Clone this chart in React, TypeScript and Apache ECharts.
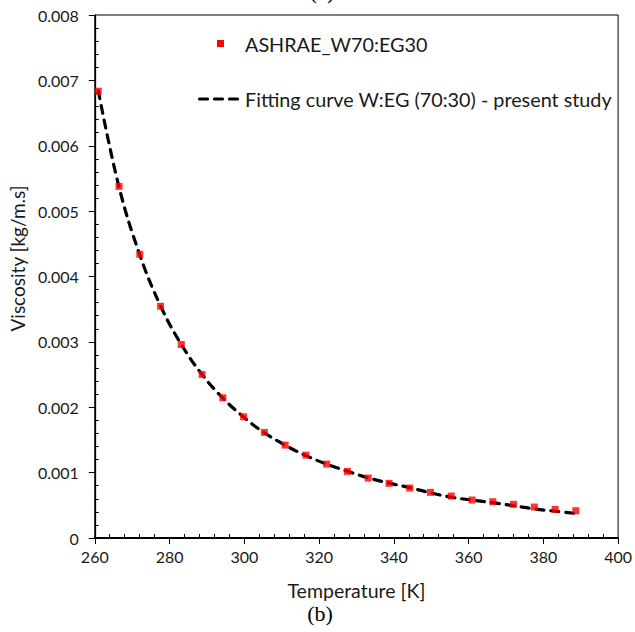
import React, { useEffect, useRef } from "react";
import * as echarts from "echarts";

const temperaturesK = [
  260.93, 266.48, 272.04, 277.59, 283.15, 288.71, 294.26, 299.82, 305.37, 310.93,
  316.48, 322.04, 327.59, 333.15, 338.71, 344.26, 349.82, 355.37, 360.93, 366.48,
  372.04, 377.59, 383.15, 388.71,
];
const ashraeViscosity = [
  0.006835, 0.005379, 0.00434, 0.003545, 0.00296, 0.002501, 0.002144, 0.001854, 0.001615, 0.001421,
  0.001268, 0.001131, 0.001019, 0.000917, 0.000836, 0.000764, 0.000698, 0.000642, 0.000581, 0.000555,
  0.000515, 0.000474, 0.000438, 0.000417,
];
const fitViscosity = [
  0.00684, 0.00537, 0.00433, 0.00355, 0.00296, 0.0025, 0.00214, 0.00185, 0.00161, 0.00142,
  0.00126, 0.00113, 0.00102, 0.00092, 0.00084, 0.00077, 0.00069, 0.000625, 0.00058, 0.00054,
  0.000495, 0.000445, 0.00041, 0.000375,
];
const seriesNames = ["ASHRAE_W70:EG30", "Fitting curve W:EG (70:30) - present study"];
const xAxisTitle = "Temperature [K]";
const yAxisTitle = "Viscosity [kg/m.s]";
const panelLabel = "(b)";
const previousPanelLabel = "(a)";

export default function App() {
  const ref = useRef<HTMLDivElement>(null);
  useEffect(() => {
    if (!ref.current) return;
    const chart = echarts.init(ref.current, undefined, { renderer: "svg" });
    const font = "Lato";
    const txt = "#1a1a1a";
    const yFmt = (v: number) => (v === 0 ? "0" : v.toFixed(3));
    chart.setOption({
      animation: false,
      backgroundColor: "#fff",
      grid: {
        left: 93,
        right: 16,
        top: 15,
        bottom: 94,
        show: true,
        borderColor: "#000",
        borderWidth: 1,
        backgroundColor: "transparent",
      },
      xAxis: [
        {
          type: "value",
          min: 260,
          max: 400,
          interval: 20,
          name: xAxisTitle,
          nameLocation: "middle",
          nameGap: 42,
          nameTextStyle: { fontFamily: font, fontSize: 19.5, color: txt, lineHeight: 20 },
          axisLine: { show: true, lineStyle: { color: "#000", width: 2 } },
          axisTick: { show: true, inside: false, length: 6, lineStyle: { color: "#000", width: 1 } },
          minorTick: { show: false },
          axisLabel: { fontFamily: font, fontSize: 16, color: txt, margin: 10 },
          splitLine: { show: false },
        },
        {
          type: "value",
          min: 260,
          max: 400,
          interval: 20,
          position: "bottom",
          axisLine: { show: false },
          axisTick: { show: false, inside: true },
          minorTick: { show: true, splitNumber: 5, length: 4, lineStyle: { color: "#000", width: 1 } },
          axisLabel: { show: false },
          splitLine: { show: false },
        },
      ],
      yAxis: [
        {
          type: "value",
          min: 0,
          max: 0.008,
          interval: 0.001,
          name: yAxisTitle,
          nameLocation: "middle",
          nameGap: 65,
          nameRotate: 90,
          nameTextStyle: { fontFamily: font, fontSize: 19, color: txt, padding: [0, 0, 0, 36] },
          axisLine: { show: true, lineStyle: { color: "#000", width: 1.3 } },
          axisTick: { show: true, inside: false, length: 6, lineStyle: { color: "#000", width: 1 } },
          minorTick: { show: false },
          axisLabel: { fontFamily: font, fontSize: 16, color: txt, margin: 16, formatter: yFmt },
          splitLine: { show: false },
        },
        {
          type: "value",
          min: 0,
          max: 0.008,
          interval: 0.001,
          position: "left",
          axisLine: { show: false },
          axisTick: { show: false, inside: true },
          minorTick: { show: true, splitNumber: 5, length: 4, lineStyle: { color: "#000", width: 1 } },
          axisLabel: { show: false },
          splitLine: { show: false },
        },
      ],
      series: [
        {
          name: seriesNames[1],
          type: "line",
          xAxisIndex: 0,
          yAxisIndex: 0,
          data: temperaturesK.map((t, i) => [t, fitViscosity[i]]),
          smooth: 0.4,
          showSymbol: false,
          symbol: "none",
          lineStyle: { color: "#000", width: 3.2, type: [8, 7], cap: "round" },
          z: 2,
        },
        {
          name: seriesNames[0],
          type: "scatter",
          xAxisIndex: 0,
          yAxisIndex: 0,
          data: temperaturesK.map((t, i) => [t, ashraeViscosity[i]]),
          symbol: "rect",
          symbolSize: 7,
          itemStyle: { color: "#ff0000" },
          z: 3,
        },
      ],
      graphic: [
        { type: "rect", shape: { x: 217, y: 40, width: 7, height: 7 }, style: { fill: "#ff0000" } },
        {
          type: "text",
          x: 245,
          y: 44,
          style: { text: seriesNames[0], font: `19.8px ${font}`, fill: txt, verticalAlign: "middle" },
        },
        {
          type: "line",
          shape: { x1: 199.5, y1: 99, x2: 238.5, y2: 99 },
          style: { stroke: "#000", lineWidth: 3.2, lineDash: [8, 7], lineCap: "round" },
        },
        {
          type: "text",
          x: 245,
          y: 99,
          style: { text: seriesNames[1], font: `19.8px ${font}`, fill: txt, verticalAlign: "middle" },
        },
        {
          type: "text",
          x: 320,
          y: 613,
          style: {
            text: panelLabel,
            font: '22px "Liberation Serif"',
            lineHeight: 20,
            fill: "#000",
            align: "center",
            verticalAlign: "middle",
          },
        },
        {
          type: "text",
          x: 322,
          y: -9,
          style: {
            text: previousPanelLabel,
            font: '22px "Liberation Serif"',
            fill: "#000",
            align: "center",
            verticalAlign: "middle",
          },
        },
      ],
    });
    return () => chart.dispose();
  }, []);
  return (
    <div
      ref={ref}
      style={{ width: 635, height: 632, position: "absolute", left: 0, top: 0 }}
    />
  );
}
